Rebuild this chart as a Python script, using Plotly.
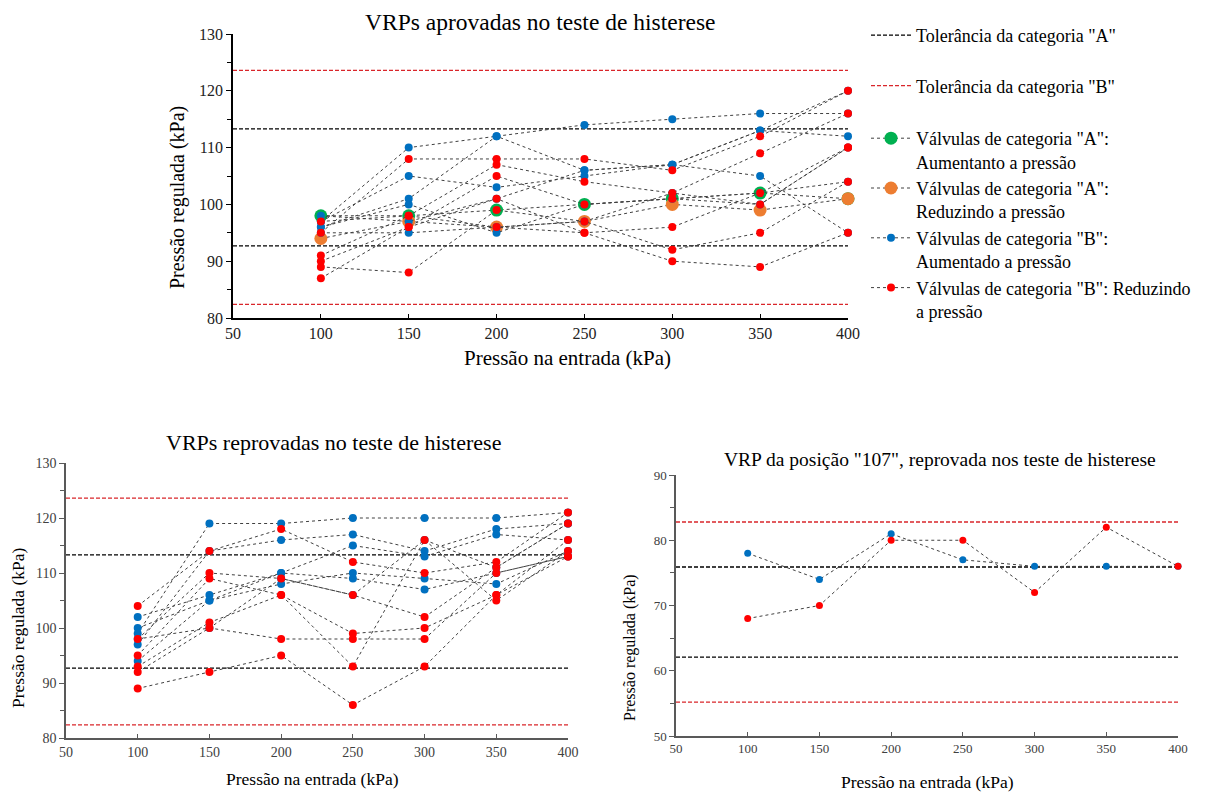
import plotly.graph_objects as go

# ---------------- data ----------------
pressures = [100, 150, 200, 250, 300, 350, 400]
tick_vals = [50, 100, 150, 200, 250, 300, 350, 400]

# Top chart: approved valves
tol_A_top = [92.7, 113.3]
tol_B_top = [82.4, 123.6]
cat_A_up = [98, 98, 99, 100, 101, 102, 101]
cat_A_down = [94, 97, 96, 97, 100, 99, 101]
cat_B_up = [
    [97, 110, 112, 114, 115, 116, 116],
    [96, 101, 112, 106, 107, 113, 112],
    [97, 105, 103, 105, 107, 105, 95],
    [96, 100, 95, 100, 101, 102, 104],
    [95, 95, 96, 97, 102, 100, 110],
    [98, 97, 101, 106, 107, 113, 120],
]
cat_B_down = [
    [95, 108, 108, 108, 106, 112, 120],
    [91, 98, 107, 104, 102, 109, 116],
    [90, 96, 105, 100, 101, 100, 110],
    [89, 88, 99, 97, 92, 95, 104],
    [87, 96, 101, 95, 90, 89, 95],
    [97, 98, 96, 95, 96, 102, 110],
]

# Bottom-left chart: failed valves
tol_A_bl = [92.7, 113.3]
tol_B_bl = [82.4, 123.6]
fail_up = [
    [99, 119, 119, 120, 120, 120, 121],
    [97, 114, 116, 117, 114, 118, 119],
    [102, 106, 110, 115, 113, 117, 116],
    [100, 105, 108, 110, 109, 108, 114],
    [94, 105, 110, 109, 107, 110, 113],
    [98, 100, 109, 106, 116, 111, 119],
]
fail_down = [
    [104, 114, 118, 112, 110, 112, 121],
    [98, 110, 109, 106, 102, 111, 119],
    [95, 109, 106, 99, 100, 106, 116],
    [93, 101, 106, 93, 116, 105, 114],
    [92, 100, 98, 98, 98, 110, 113],
    [89, 92, 95, 86, 93, 106, 113],
]

# Bottom-right chart: valve 107
tol_A_107 = [62.1, 75.9]
tol_B_107 = [55.2, 82.8]
v107_up = [78, 74, 81, 77, 76, 76, 76]
v107_down = [68, 70, 80, 80, 72, 82, 76]

# Texts
title_top = "VRPs aprovadas no teste de histerese"
title_bl = "VRPs reprovadas no teste de histerese"
title_br = 'VRP da posição "107", reprovada nos teste de histerese'
x_title = "Pressão na entrada (kPa)"
y_title = "Pressão regulada (kPa)"

# ---------------- style ----------------
FONT = "Liberation Serif, Times New Roman, Times, serif"
BLUE = "#0070C0"
RED = "#FF0000"
GREEN = "#00B050"
ORANGE = "#ED7D31"
LINE = "#404040"
TOL_RED = "#D9262B"
DASH = "4px,2px"

W, H = 1210, 792
OFF = 8  # page body offset


def px_x(p):
    return (p - OFF) / W


def px_y(p):
    return 1 - (p - OFF) / H


fig = go.Figure()


def tol_traces(vals, color, xa, ya, name, legend_on, group):
    for i, v in enumerate(vals):
        fig.add_trace(go.Scatter(
            x=[tick_vals[0], tick_vals[-1]], y=[v, v], mode="lines",
            line=dict(color=color, width=1.3, dash=DASH),
            name=name, legendgroup=group, legend="legend",
            showlegend=(legend_on and i == 0), hoverinfo="skip",
            xaxis=xa, yaxis=ya))


def series(yvals, color, size, xa, ya, name, legend_on, group):
    fig.add_trace(go.Scatter(
        x=pressures, y=yvals, mode="lines+markers",
        line=dict(color=LINE, width=1, dash="dot"),
        marker=dict(color=color, size=size, line=dict(width=0)),
        name=name, legendgroup=group, legend="legend2",
        showlegend=legend_on, cliponaxis=False,
        xaxis=xa, yaxis=ya))


# Top chart
tol_traces(tol_A_top, "#000000", "x", "y", 'Tolerância da categoria "A"', True, "tA")
tol_traces(tol_B_top, TOL_RED, "x", "y", 'Tolerância da categoria "B"', True, "tB")
series(cat_A_up, GREEN, 13, "x", "y", 'Válvulas de categoria "A":<br>Aumentanto a pressão', True, "gA")
series(cat_A_down, ORANGE, 13, "x", "y", 'Válvulas de categoria "A":<br>Reduzindo a pressão', True, "oA")
for i, s in enumerate(cat_B_up):
    series(s, BLUE, 8, "x", "y", 'Válvulas de categoria "B":<br>Aumentado a pressão', i == 0, "bB")
for i, s in enumerate(cat_B_down):
    series(s, RED, 8, "x", "y", 'Válvulas de categoria "B": Reduzindo<br>a pressão', i == 0, "rB")

# Bottom-left chart
tol_traces(tol_A_bl, "#000000", "x2", "y2", "", False, "tA")
tol_traces(tol_B_bl, TOL_RED, "x2", "y2", "", False, "tB")
for s in fail_up:
    series(s, BLUE, 8, "x2", "y2", "", False, "bB")
for s in fail_down:
    series(s, RED, 8, "x2", "y2", "", False, "rB")

# Bottom-right chart
tol_traces(tol_A_107, "#000000", "x3", "y3", "", False, "tA")
tol_traces(tol_B_107, TOL_RED, "x3", "y3", "", False, "tB")
series(v107_up, BLUE, 7, "x3", "y3", "", False, "bB")
series(v107_down, RED, 7, "x3", "y3", "", False, "rB")


def xaxis(dom, linecolor, tickcolor, tsize, anchor):
    return dict(domain=dom, anchor=anchor, range=[50, 400], tickmode="array",
                tickvals=tick_vals, ticks="inside", ticklen=4, tickcolor=linecolor,
                showline=True, linecolor=linecolor, linewidth=1.5, showgrid=False,
                zeroline=False, automargin=False,
                tickfont=dict(family=FONT, size=tsize, color=tickcolor))


def yaxis(dom, rng, dtick, linecolor, tickcolor, tsize, anchor):
    return dict(domain=dom, anchor=anchor, range=rng, dtick=dtick, ticks="outside",
                ticklen=5, tickcolor=linecolor, showline=True, linecolor=linecolor,
                linewidth=1.5, showgrid=False, zeroline=False, automargin=False,
                minor=dict(ticks="outside", dtick=dtick / 2, ticklen=4, tickcolor=linecolor,
                           showgrid=False),
                tickfont=dict(family=FONT, size=tsize, color=tickcolor))


def label(text, x, y, size, angle=0):
    return dict(text=text, x=px_x(x), y=px_y(y), xref="paper", yref="paper",
                showarrow=False, xanchor="center", yanchor="middle", textangle=angle,
                font=dict(family=FONT, size=size, color="#000000"))


fig.update_layout(
    width=W, height=H, margin=dict(l=0, r=0, t=0, b=0, autoexpand=False),
    paper_bgcolor="white", plot_bgcolor="white",
    font=dict(family=FONT, color="#000000"),
    xaxis=xaxis([px_x(233), px_x(848)], "#000000", "#222222", 16, "y"),
    yaxis=yaxis([px_y(318), px_y(34)], [80, 130], 10, "#000000", "#222222", 16, "x"),
    xaxis2=xaxis([px_x(66), px_x(568)], "#595959", "#404040", 14, "y2"),
    yaxis2=yaxis([px_y(738), px_y(463)], [80, 130], 10, "#595959", "#404040", 14, "x2"),
    xaxis3=xaxis([px_x(676), px_x(1178)], "#595959", "#404040", 13, "y3"),
    yaxis3=yaxis([px_y(736), px_y(475)], [50, 90], 10, "#595959", "#404040", 13, "x3"),
    legend=dict(x=px_x(866), y=px_y(17), xanchor="left", yanchor="top",
                font=dict(family=FONT, size=18, color="#000000"),
                tracegroupgap=24, bgcolor="rgba(0,0,0,0)", itemwidth=40),
    legend2=dict(x=px_x(866), y=px_y(120), xanchor="left", yanchor="top",
                 font=dict(family=FONT, size=18, color="#000000"),
                 tracegroupgap=0, valign="top", bgcolor="rgba(0,0,0,0)", itemwidth=40),
    showlegend=True,
    annotations=[
        label(title_top, 540, 22, 23.5),
        label(title_bl, 333, 443, 22),
        label(title_br, 940, 459, 19.5),
        label(x_title, 567, 358, 21),
        label(y_title, 178, 198, 20, -90),
        label(x_title, 312, 779, 17.5),
        label(y_title, 18, 628, 17.5, -90),
        label(x_title, 927, 782, 17.5),
        label(y_title, 630, 648, 16, -90),
    ],
)

fig.write_html("out.html")
